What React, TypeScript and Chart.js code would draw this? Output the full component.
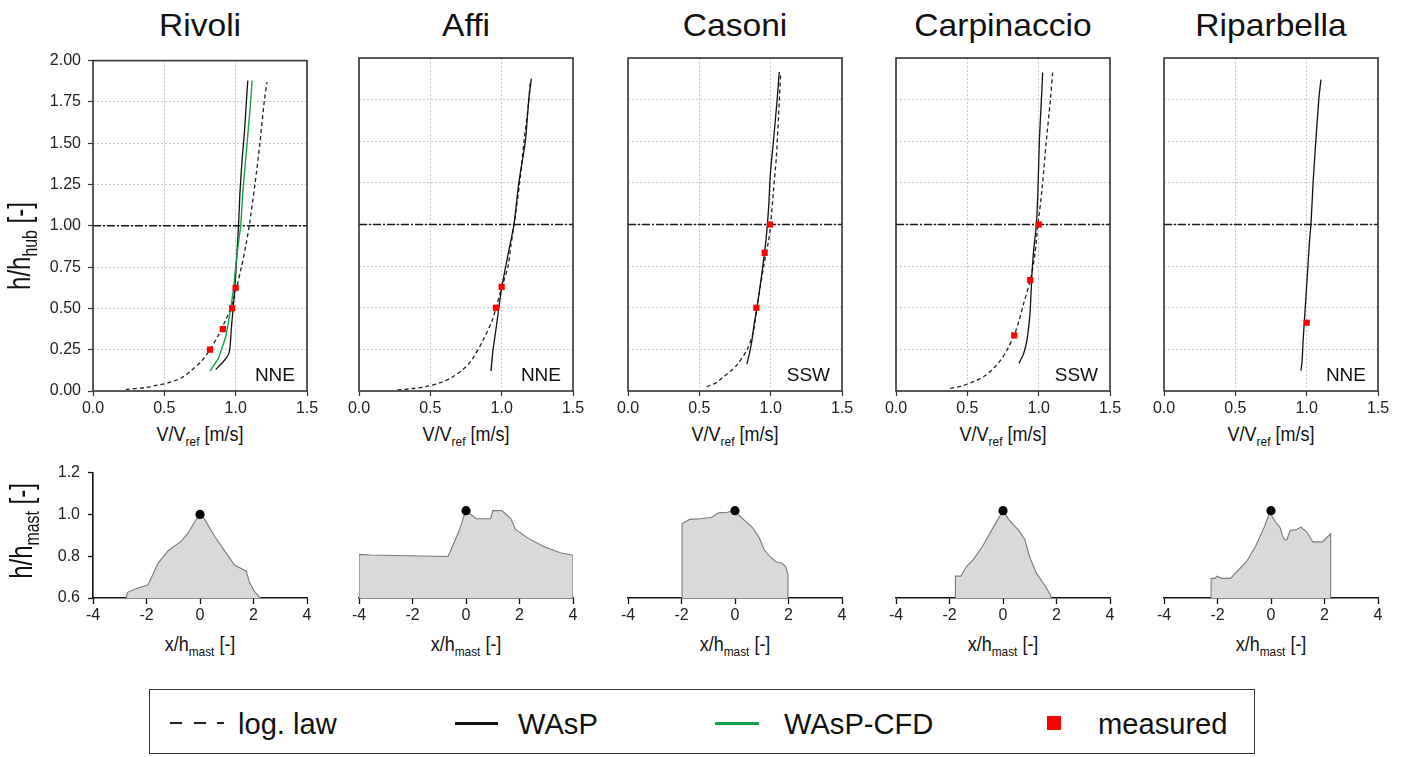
import React, { useEffect, useRef } from 'react';
import { Chart, registerables } from 'chart.js';
Chart.register(...registerables);

// ---------------- data ----------------
const siteNames = ['Rivoli', 'Affi', 'Casoni', 'Carpinaccio', 'Riparbella'];
const windDirections = ['NNE', 'NNE', 'SSW', 'SSW', 'NNE'];
const speedTicks = [0, 0.5, 1.0, 1.5];
const heightTicks = [0, 0.25, 0.5, 0.75, 1.0, 1.25, 1.5, 1.75, 2.0];
const terrainXTicks = [-4, -2, 0, 2, 4];
const terrainYTicks = [0.6, 0.8, 1.0, 1.2];
const hubHeight = 1.0;
const mastTop = [0, 1.0];

// profiles: [V/Vref, h/hhub]
const rivoliLogLaw = [[0.23, 0.01], [0.36, 0.02], [0.45, 0.035], [0.53, 0.05], [0.62, 0.08], [0.69, 0.125], [0.76, 0.18], [0.82, 0.25], [0.88, 0.34], [0.93, 0.43], [0.965, 0.5], [1.005, 0.62], [1.04, 0.75], [1.07, 0.875], [1.095, 1.0], [1.135, 1.25], [1.17, 1.5], [1.2, 1.75], [1.22, 1.87]];
const rivoliWasp = [[0.86, 0.13], [0.9, 0.165], [0.935, 0.2], [0.955, 0.235], [0.962, 0.28], [0.968, 0.36], [0.978, 0.46], [0.99, 0.58], [1.0, 0.7], [1.01, 0.85], [1.02, 1.0], [1.03, 1.2], [1.045, 1.4], [1.06, 1.55], [1.075, 1.75], [1.085, 1.88]];
const rivoliWaspCfd = [[0.82, 0.12], [0.85, 0.16], [0.88, 0.2], [0.9, 0.25], [0.93, 0.33], [0.95, 0.42], [0.965, 0.5], [0.985, 0.62], [1.0, 0.75], [1.02, 0.9], [1.035, 1.0], [1.05, 1.2], [1.07, 1.4], [1.09, 1.6], [1.105, 1.75], [1.115, 1.88]];
const rivoliMeasured = [[0.82, 0.25], [0.91, 0.375], [0.975, 0.5], [1.0, 0.625]];

const affiLogLaw = [[0.27, 0.006], [0.38, 0.015], [0.47, 0.026], [0.57, 0.05], [0.66, 0.086], [0.73, 0.13], [0.79, 0.186], [0.87, 0.306], [0.935, 0.426], [0.96, 0.5], [1.0, 0.62], [1.045, 0.75], [1.065, 0.875], [1.087, 1.0], [1.126, 1.25], [1.157, 1.5], [1.185, 1.7], [1.2, 1.85]];
const affiWasp = [[0.925, 0.12], [0.94, 0.25], [0.96, 0.37], [0.98, 0.5], [1.0, 0.62], [1.04, 0.8], [1.086, 1.0], [1.12, 1.25], [1.166, 1.5], [1.19, 1.75], [1.208, 1.876]];
const affiMeasured = [[0.96, 0.5], [1.0, 0.625]];

const casoniLogLaw = [[0.552, 0.026], [0.62, 0.05], [0.67, 0.086], [0.72, 0.12], [0.763, 0.156], [0.833, 0.246], [0.876, 0.346], [0.904, 0.5], [0.951, 0.75], [0.986, 0.906], [1.0, 1.0], [1.02, 1.206], [1.04, 1.406], [1.056, 1.666], [1.07, 1.906]];
const casoniWasp = [[0.833, 0.162], [0.85, 0.22], [0.869, 0.306], [0.885, 0.406], [0.904, 0.5], [0.939, 0.71], [0.967, 0.906], [0.986, 1.106], [0.998, 1.306], [1.02, 1.506], [1.045, 1.746], [1.06, 1.916]];
const casoniMeasured = [[0.9, 0.5], [0.958, 0.83], [0.995, 1.0]];

const carpinaccioLogLaw = [[0.38, 0.016], [0.46, 0.03], [0.543, 0.056], [0.62, 0.09], [0.684, 0.136], [0.738, 0.19], [0.778, 0.246], [0.829, 0.336], [0.865, 0.43], [0.895, 0.526], [0.941, 0.666], [0.97, 0.8], [0.995, 1.0], [1.023, 1.206], [1.054, 1.506], [1.082, 1.746], [1.098, 1.916]];
const carpinaccioWasp = [[0.862, 0.166], [0.895, 0.226], [0.918, 0.306], [0.932, 0.4], [0.941, 0.486], [0.953, 0.706], [0.965, 0.846], [0.984, 1.0], [0.995, 1.206], [1.005, 1.506], [1.019, 1.746], [1.028, 1.912]];
const carpinaccioMeasured = [[0.829, 0.334], [0.941, 0.666], [1.0, 1.0]];

const riparbellaWasp = [[0.96, 0.122], [0.968, 0.18], [0.975, 0.3], [0.99, 0.5], [1.005, 0.7], [1.02, 0.9], [1.03, 1.0], [1.045, 1.25], [1.06, 1.45], [1.085, 1.75], [1.1, 1.87]];
const riparbellaMeasured = [[1.0, 0.41]];

// terrain: [x/hmast, h/hmast]
const rivoliTerrain = [[-2.75, 0.6], [-2.75, 0.607], [-2.71, 0.627], [-2.37, 0.645], [-1.94, 0.663], [-1.57, 0.766], [-1.19, 0.826], [-0.7, 0.872], [-0.45, 0.91], [-0.14, 0.977], [0, 1.0], [0.17, 0.977], [0.55, 0.894], [1.04, 0.804], [1.29, 0.758], [1.73, 0.728], [1.85, 0.675], [2.04, 0.63], [2.22, 0.605], [2.28, 0.6]];
const affiTerrain = [[-4, 0.6], [-4, 0.8], [-3.6, 0.797], [-0.67, 0.79], [-0.25, 0.91], [-0.03, 0.993], [0.1, 0.99], [0.39, 0.963], [0.92, 0.963], [1.0, 1.0], [1.34, 1.0], [1.68, 0.963], [1.85, 0.914], [2.35, 0.872], [2.94, 0.834], [3.53, 0.807], [4, 0.796], [4, 0.6]];
const casoniTerrain = [[-1.98, 0.6], [-1.98, 0.94], [-1.7, 0.96], [-1.29, 0.963], [-0.87, 0.97], [-0.62, 0.99], [-0.29, 0.993], [0, 1.0], [0.22, 0.97], [0.64, 0.925], [0.89, 0.88], [1.09, 0.822], [1.31, 0.789], [1.53, 0.766], [1.76, 0.759], [1.9, 0.743], [1.98, 0.706], [1.98, 0.6]];
const carpinaccioTerrain = [[-1.78, 0.6], [-1.78, 0.7], [-1.58, 0.7], [-1.36, 0.745], [-1.11, 0.776], [-0.77, 0.836], [-0.35, 0.927], [0, 1.0], [0.23, 0.957], [0.57, 0.912], [0.82, 0.867], [0.99, 0.79], [1.24, 0.715], [1.58, 0.655], [1.78, 0.612], [1.8, 0.6]];
const riparbellaTerrain = [[-2.24, 0.6], [-2.24, 0.69], [-2.1, 0.69], [-2.02, 0.7], [-1.84, 0.69], [-1.51, 0.69], [-1.34, 0.713], [-0.92, 0.766], [-0.59, 0.834], [-0.25, 0.925], [-0.05, 0.993], [0.17, 0.948], [0.33, 0.925], [0.45, 0.88], [0.5, 0.867], [0.59, 0.867], [0.72, 0.91], [0.92, 0.912], [1.12, 0.925], [1.34, 0.902], [1.56, 0.857], [1.92, 0.857], [2.23, 0.894], [2.23, 0.6]];

const logLawSeries = [rivoliLogLaw, affiLogLaw, casoniLogLaw, carpinaccioLogLaw, null];
const waspSeries = [rivoliWasp, affiWasp, casoniWasp, carpinaccioWasp, riparbellaWasp];
const waspCfdSeries = [rivoliWaspCfd, null, null, null, null];
const measuredSeries = [rivoliMeasured, affiMeasured, casoniMeasured, carpinaccioMeasured, riparbellaMeasured];
const terrainSeries = [rivoliTerrain, affiTerrain, casoniTerrain, carpinaccioTerrain, riparbellaTerrain];

const legendLabels = ['log. law', 'WAsP', 'WAsP-CFD', 'measured'];

// ---------------- layout / style ----------------
const FONT = '"Liberation Sans", Arial, Helvetica, sans-serif';
const PLOT_LEFTS = [93, 359, 628, 896, 1164];
const PLOT_W = 214;
const TOP_Y = 58;
const TOP_H = 333;
const BOT_Y = 467;
const BOT_H = 131;
const GREEN = '#17a04a';
const RED = '#ff0000';
const LINE = '#111111';
const LEGEND_TEXT_X = [238, 518, 784, 1098];

const toXY = (arr: number[][]) => arr.map(([x, y]) => ({ x, y }));

const framePlugin = {
  id: 'frame',
  afterDatasetsDraw(chart: any, _args: any, opts: any) {
    if (!opts || !opts.show) return;
    const { ctx, chartArea: a } = chart;
    ctx.save();
    ctx.strokeStyle = opts.color || '#333';
    ctx.lineWidth = opts.width || 1.5;
    ctx.strokeRect(a.left, a.top, a.right - a.left, a.bottom - a.top);
    ctx.restore();
  },
};

function ChartBox({ left, top, width, height, config }: any) {
  const ref = useRef<HTMLCanvasElement>(null);
  useEffect(() => {
    const c = new Chart(ref.current as HTMLCanvasElement, config);
    return () => c.destroy();
  }, []);
  return (
    <canvas
      ref={ref}
      width={width}
      height={height}
      style={{ position: 'absolute', left, top, width, height }}
    />
  );
}

function topConfig(i: number, padL: number, padT: number, padR: number, padB: number) {
  const datasets: any[] = [];
  datasets.push({
    label: 'measured',
    data: toXY(measuredSeries[i]),
    pointStyle: 'rect',
    pointRadius: 4.4,
    backgroundColor: RED,
    borderColor: RED,
    borderWidth: 0,
    showLine: false,
  });
  if (waspCfdSeries[i]) {
    datasets.push({
      label: 'WAsP-CFD',
      data: toXY(waspCfdSeries[i] as number[][]),
      showLine: true,
      borderColor: GREEN,
      borderWidth: 1.4,
      pointRadius: 0,
      tension: 0.3,
    });
  }
  datasets.push({
    label: 'WAsP',
    data: toXY(waspSeries[i]),
    showLine: true,
    borderColor: LINE,
    borderWidth: 1.3,
    pointRadius: 0,
    tension: 0.25,
  });
  if (logLawSeries[i]) {
    datasets.push({
      label: 'log. law',
      data: toXY(logLawSeries[i] as number[][]),
      showLine: true,
      borderColor: '#222',
      borderWidth: 1.3,
      borderDash: [4, 3],
      pointRadius: 0,
      tension: 0.3,
    });
  }
  datasets.push({
    label: 'hub',
    data: [{ x: speedTicks[0], y: hubHeight }, { x: speedTicks[speedTicks.length - 1], y: hubHeight }],
    showLine: true,
    borderColor: '#1a1a1a',
    borderWidth: 1.4,
    borderDash: [8, 2, 2, 2],
    pointRadius: 0,
  });
  const tickFont = { family: FONT, size: 16 };
  return {
    type: 'scatter',
    data: { datasets },
    options: {
      animation: false,
      responsive: false,
      events: [],
      layout: { padding: { top: padT, right: padR, left: 0, bottom: 0 } },
      plugins: { legend: { display: false }, tooltip: { enabled: false }, frame: { show: true, color: '#353535', width: 1.6 } },
      scales: {
        x: {
          type: 'linear',
          min: 0,
          max: 1.5,
          afterBuildTicks: (s: any) => { s.ticks = speedTicks.map((v) => ({ value: v })); },
          afterFit: (s: any) => { s.height = padB; },
          ticks: { font: tickFont, color: '#222', padding: 3, maxRotation: 0, callback: (v: any) => Number(v).toFixed(1) },
          grid: { color: '#c9c9c9', lineWidth: 1, drawTicks: true, tickLength: 5, tickColor: '#333', tickWidth: 1.2 },
          border: { display: false, dash: [2, 2] },
        },
        y: {
          type: 'linear',
          min: 0,
          max: 2,
          afterBuildTicks: (s: any) => { s.ticks = heightTicks.map((v) => ({ value: v })); },
          afterFit: (s: any) => { s.width = padL; },
          ticks: { display: i === 0, font: tickFont, color: '#222', padding: 7, callback: (v: any) => Number(v).toFixed(2) },
          grid: { color: '#c9c9c9', lineWidth: 1, drawTicks: i === 0, tickLength: 5, tickColor: '#333', tickWidth: 1.2 },
          border: { display: false, dash: [2, 2] },
        },
      },
    },
    plugins: [framePlugin],
  };
}

function bottomConfig(i: number, padL: number, padT: number, padR: number, padB: number) {
  const tickFont = { family: FONT, size: 16 };
  return {
    type: 'scatter',
    data: {
      datasets: [
        {
          label: 'mast',
          data: [{ x: mastTop[0], y: mastTop[1] }],
          pointRadius: 4.6,
          backgroundColor: '#000',
          borderColor: '#000',
          borderWidth: 0,
          showLine: false,
        },
        {
          label: 'terrain',
          data: toXY(terrainSeries[i]),
          showLine: true,
          fill: 'start',
          backgroundColor: '#d9d9d9',
          borderColor: '#7a7a7a',
          borderWidth: 1.1,
          pointRadius: 0,
          tension: 0,
        },
      ],
    },
    options: {
      animation: false,
      responsive: false,
      events: [],
      layout: { padding: { top: padT, right: padR, left: 0, bottom: 0 } },
      plugins: { legend: { display: false }, tooltip: { enabled: false }, filler: { propagate: false } },
      scales: {
        x: {
          type: 'linear',
          min: -4,
          max: 4,
          afterBuildTicks: (s: any) => { s.ticks = terrainXTicks.map((v) => ({ value: v })); },
          afterFit: (s: any) => { s.height = padB; },
          ticks: { font: tickFont, color: '#222', padding: 2, maxRotation: 0, callback: (v: any) => String(v) },
          grid: { drawOnChartArea: false, drawTicks: true, tickLength: 6, tickColor: '#111', tickWidth: 1.3 },
          border: { display: true, color: '#111', width: 1.6 },
        },
        y: {
          type: 'linear',
          min: 0.6,
          max: 1.2,
          afterBuildTicks: (s: any) => { s.ticks = terrainYTicks.map((v) => ({ value: v })); },
          afterFit: (s: any) => { s.width = padL; },
          ticks: { display: i === 0, font: tickFont, color: '#222', padding: 8, callback: (v: any) => Number(v).toFixed(1) },
          grid: { drawOnChartArea: false, drawTicks: i === 0, tickLength: 5, tickColor: '#111', tickWidth: 1.3 },
          border: { display: i === 0, color: '#111', width: 1.6 },
        },
      },
    },
  };
}

const sub = (t: string) => (
  <span style={{ fontSize: '0.66em', position: 'relative', top: '0.32em' }}>{t}</span>
);

export default function App() {
  const topPad = { t: 14, r: 16, b: 30 };
  const botPad = { t: 12, r: 16, b: 28 };
  return (
    <div
      style={{
        position: 'absolute',
        left: 0,
        top: 0,
        width: 1402,
        height: 757,
        background: '#fff',
        fontFamily: FONT,
        color: '#111',
        overflow: 'hidden',
      }}
    >
      {siteNames.map((name, i) => {
        const pl = PLOT_LEFTS[i];
        const padL = i === 0 ? 60 : 20;
        return (
          <React.Fragment key={name}>
            <div
              style={{
                position: 'absolute',
                left: pl + PLOT_W / 2,
                top: 11,
                fontSize: 30,
                lineHeight: '30px',
                whiteSpace: 'nowrap',
                transform: 'translateX(-50%) scale(1.12, 1.04)',
              }}
            >
              {name}
            </div>
            <ChartBox
              left={pl - padL}
              top={TOP_Y - topPad.t}
              width={padL + PLOT_W + topPad.r}
              height={topPad.t + TOP_H + topPad.b}
              config={topConfig(i, padL, topPad.t, topPad.r, topPad.b)}
            />
            <div
              style={{
                position: 'absolute',
                left: pl,
                width: PLOT_W - 12,
                top: 365,
                fontSize: 19,
                lineHeight: '19px',
                textAlign: 'right',
              }}
            >
              {windDirections[i]}
            </div>
            <div
              style={{
                position: 'absolute',
                left: pl + PLOT_W / 2,
                top: 426,
                fontSize: 18,
                lineHeight: '18px',
                whiteSpace: 'nowrap',
                transform: 'translateX(-50%) scaleY(1.08)',
              }}
            >
              V/V{sub('ref')} [m/s]
            </div>
            <ChartBox
              left={pl - padL}
              top={BOT_Y - botPad.t}
              width={padL + PLOT_W + botPad.r}
              height={botPad.t + BOT_H + botPad.b}
              config={bottomConfig(i, padL, botPad.t, botPad.r, botPad.b)}
            />
            <div
              style={{
                position: 'absolute',
                left: pl + PLOT_W / 2,
                top: 636,
                fontSize: 18,
                lineHeight: '18px',
                whiteSpace: 'nowrap',
                transform: 'translateX(-50%) scaleY(1.08)',
              }}
            >
              x/h{sub('mast')} [-]
            </div>
          </React.Fragment>
        );
      })}

      <div
        style={{
          position: 'absolute',
          left: 22,
          top: 246,
          fontSize: 24,
          lineHeight: '24px',
          whiteSpace: 'nowrap',
          transform: 'translate(-50%, -50%) rotate(-90deg) scaleY(1.28)',
        }}
      >
        h/h{sub('hub')} [-]
      </div>
      <div
        style={{
          position: 'absolute',
          left: 24,
          top: 531,
          fontSize: 24,
          lineHeight: '24px',
          whiteSpace: 'nowrap',
          transform: 'translate(-50%, -50%) rotate(-90deg) scaleY(1.28)',
        }}
      >
        h/h{sub('mast')} [-]
      </div>

      {/* legend */}
      <div
        style={{
          position: 'absolute',
          left: 149,
          top: 689,
          width: 1104,
          height: 63,
          border: '1.6px solid #333',
        }}
      />
      {[170, 194, 217].map((x, k) => (
        <div key={k} style={{ position: 'absolute', left: x, top: 722, width: k === 2 ? 7 : 12, height: 2, background: '#222' }} />
      ))}
      <div style={{ position: 'absolute', left: 455, top: 722, width: 43, height: 2.5, background: '#111' }} />
      <div style={{ position: 'absolute', left: 715, top: 722, width: 44, height: 2.5, background: GREEN }} />
      <div style={{ position: 'absolute', left: 1047, top: 716, width: 14, height: 14, background: RED }} />
      {legendLabels.map((t, k) => (
        <div
          key={t}
          style={{
            position: 'absolute',
            left: LEGEND_TEXT_X[k],
            top: 710,
            fontSize: 28,
            lineHeight: '28px',
            whiteSpace: 'nowrap',
            transform: 'scale(1.04, 1.08)',
            transformOrigin: 'left center',
          }}
        >
          {t}
        </div>
      ))}
    </div>
  );
}
